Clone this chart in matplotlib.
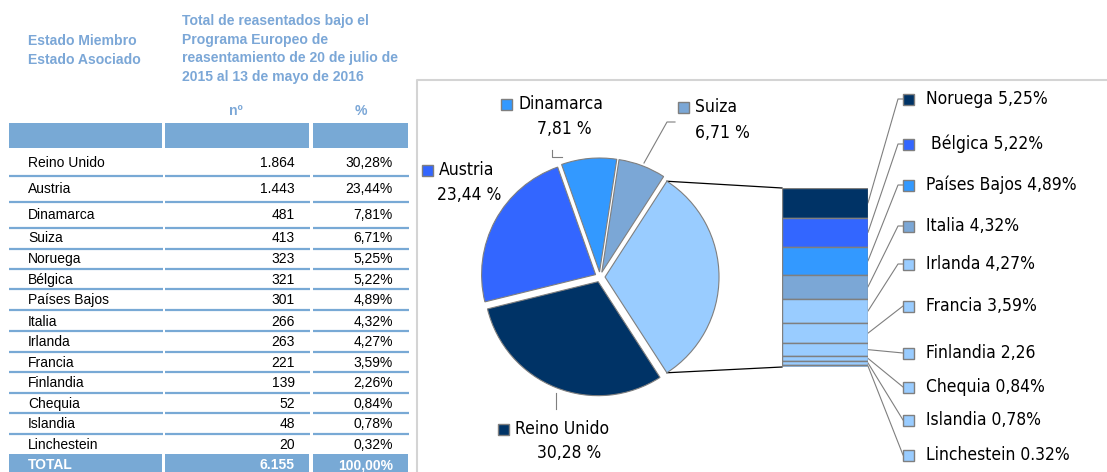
import numpy as np
import matplotlib.pyplot as plt
from matplotlib.patches import Rectangle

W, H = 1107, 472

# datos de la tabla
paises = ['Reino Unido', 'Austria', 'Dinamarca', 'Suiza', 'Noruega', 'Bélgica',
          'Países Bajos', 'Italia', 'Irlanda', 'Francia', 'Finlandia', 'Chequia',
          'Islandia', 'Linchestein']
num = [1864, 1443, 481, 413, 323, 321, 301, 266, 263, 221, 139, 52, 48, 20]
num_txt = ['1.864', '1.443', '481', '413', '323', '321', '301', '266', '263',
           '221', '139', '52', '48', '20']
pct_txt = ['30,28%', '23,44%', '7,81%', '6,71%', '5,25%', '5,22%', '4,89%',
           '4,32%', '4,27%', '3,59%', '2,26%', '0,84%', '0,78%', '0,32%']
total_txt = ['TOTAL', '6.155', '100,00%']

# etiquetas del grafico
pie_names = ['Reino Unido', 'Austria', 'Dinamarca', 'Suiza']
pie_pct = ['30,28 %', '23,44 %', '7,81 %', '6,71 %']
bar_txt = ['Noruega 5,25%', ' Bélgica 5,22%', 'Países Bajos 4,89%', 'Italia 4,32%',
           'Irlanda 4,27%', 'Francia 3,59%', 'Finlandia 2,26', 'Chequia 0,84%',
           'Islandia 0,78%', 'Linchestein 0.32%']

NAVY = '#003366'
BLUE = '#3366FF'
SKY = '#3399FF'
STEEL = '#7BA7D6'
LIGHT = '#99CCFF'
EDGE = '#7F7F7F'
HEAD = '#7BA7D7'
TBL = '#78A9D5'

pie_colors = [NAVY, BLUE, SKY, STEEL, LIGHT]
bar_colors = [NAVY, BLUE, SKY, STEEL] + [LIGHT] * 6

fig = plt.figure(figsize=(W / 100, H / 100), dpi=100)
ax = fig.add_axes([0, 0, 1, 1])
ax.set_xlim(0, W)
ax.set_ylim(H, 0)
ax.axis('off')

# ---------------- tabla ----------------
tfont = 'Liberation Sans'
hs = 10.1
ax.text(28, 41, 'Estado Miembro', color=HEAD, fontsize=hs, fontweight='bold',
        family=tfont, va='center')
ax.text(28, 60, 'Estado Asociado', color=HEAD, fontsize=hs, fontweight='bold',
        family=tfont, va='center')
head_lines = ['Total de reasentados bajo el', 'Programa Europeo de',
              'reasentamiento de 20 de julio de', '2015 al 13 de mayo de 2016']
for i, s in enumerate(head_lines):
    ax.text(182, 21 + i * 18.7, s, color=HEAD, fontsize=hs, fontweight='bold',
            family=tfont, va='center')
ax.text(236, 111, 'nº', color=HEAD, fontsize=hs, fontweight='bold', family=tfont,
        ha='center', va='center')
ax.text(361, 111, '%', color=HEAD, fontsize=hs, fontweight='bold', family=tfont,
        ha='center', va='center')

cols = [(9, 162), (165, 309), (313, 408)]
for x0, x1 in cols:
    ax.add_patch(Rectangle((x0, 123), x1 - x0, 25, fc=TBL, ec='none'))
    ax.add_patch(Rectangle((x0, 454), x1 - x0, 20, fc=TBL, ec='none'))

row_y = [163, 189, 215, 238, 259, 280, 300, 322, 342, 363, 383, 404, 424, 445]
line_y = [176, 202, 228, 249, 269, 289, 310, 331, 352, 372, 393, 413, 434]
for i, p in enumerate(paises):
    ax.text(28, row_y[i], p, fontsize=10, family=tfont, va='center')
    ax.text(295, row_y[i], num_txt[i], fontsize=10, family=tfont, va='center', ha='right')
    ax.text(393, row_y[i], pct_txt[i], fontsize=10, family=tfont, va='center', ha='right')
for y in line_y:
    for x0, x1 in cols:
        ax.plot([x0, x1 + 1], [y, y], color=TBL, lw=1.6, solid_capstyle='butt')

ax.text(28, 465, total_txt[0], fontsize=10, family=tfont, va='center',
        color='white', fontweight='bold')
ax.text(295, 465, total_txt[1], fontsize=10, family=tfont, va='center', ha='right',
        color='white', fontweight='bold')
ax.text(393, 465, total_txt[2], fontsize=10, family=tfont, va='center', ha='right',
        color='white', fontweight='bold')

# marco del grafico
ax.plot([417, 417, W], [H, 80, 80], color='#D4D4D4', lw=1.5)

# ---------------- grafico circular ----------------
otros = sum(num[4:])
pie_vals = num[:4] + [otros]
other_deg = otros / sum(pie_vals) * 360

cx, cy, R = 600, 277, 114
half = 160
ax_pie = fig.add_axes([(cx - half) / W, (H - cy - half) / H, 2 * half / W, 2 * half / H])
wedges, _ = ax_pie.pie(pie_vals, colors=pie_colors, radius=1, explode=[0.044] * 5,
                       startangle=-other_deg / 2, counterclock=False,
                       wedgeprops=dict(edgecolor=EDGE, linewidth=0.8))
ax_pie.set_xlim(-half / R, half / R)
ax_pie.set_ylim(-half / R, half / R)
ax_pie.axis('off')


def to_px(axes, pt):
    d = axes.transData.transform(pt)
    return ax.transData.inverted().transform(d)


# barra apilada
bx0, bx1, by0, by1 = 782, 868, 188, 367
ax_bar = fig.add_axes([bx0 / W, (H - by1) / H, (bx1 - bx0) / W, (by1 - by0) / H])
small = num[4:]
bottoms = np.concatenate([[0], np.cumsum(small)[:-1]])
ax_bar.bar(0, small, bottom=bottoms, width=1, color=bar_colors, edgecolor=EDGE,
           linewidth=1)
ax_bar.set_xlim(-0.5, 0.5)
ax_bar.set_ylim(otros, 0)
ax_bar.axis('off')

# lineas de union circulo - barra
w = wedges[-1]
wx, wy = w.center
for th, yb in [(w.theta2, 0), (w.theta1, otros)]:
    p0 = to_px(ax_pie, (wx + w.r * np.cos(np.radians(th)), wy + w.r * np.sin(np.radians(th))))
    p1 = to_px(ax_bar, (-0.5, yb))
    ax.plot([p0[0], p1[0]], [p0[1], p1[1]], color='black', lw=0.9)

# etiquetas de la barra
lab_y = [99, 144, 185, 226, 264, 306, 353, 387, 420, 455]
for i, s in enumerate(bar_txt):
    mid = bottoms[i] + small[i] / 2
    p = to_px(ax_bar, (0.5, mid))
    ax.plot([p[0], 898 if i < 5 else 903, 903], [p[1], lab_y[i], lab_y[i]],
            color=EDGE, lw=0.8)
    ax.add_patch(Rectangle((903, lab_y[i] - 5.5), 11, 11, fc=bar_colors[i], ec=EDGE, lw=1))
    ax.text(926, lab_y[i], s, fontsize=12.5, family='DejaVu Sans', stretch='condensed',
            va='center')

# etiquetas del circulo
pie_lab = [(498, 429, 569, 453), (422, 170, 469, 195), (501, 104, 564, 129), (678, 107, 722, 133)]
for i, (mx, my, vx, vy) in enumerate(pie_lab):
    ax.add_patch(Rectangle((mx, my - 5.5), 11, 11, fc=pie_colors[i], ec=EDGE, lw=1))
    ax.text(mx + 17, my, pie_names[i], fontsize=12.5, family='DejaVu Sans',
            stretch='condensed', va='center')
    ax.text(vx, vy, pie_pct[i], fontsize=12.5, family='DejaVu Sans',
            stretch='condensed', va='center', ha='center')

# lineas guia del circulo
ax.plot([552, 552, 562], [150, 157, 157], color=EDGE, lw=0.8)
ax.plot([675, 667, 644], [122, 122, 163], color=EDGE, lw=0.8)
ax.plot([556, 556], [393, 409], color=EDGE, lw=0.8)

fig.savefig('out.png', dpi=100)
